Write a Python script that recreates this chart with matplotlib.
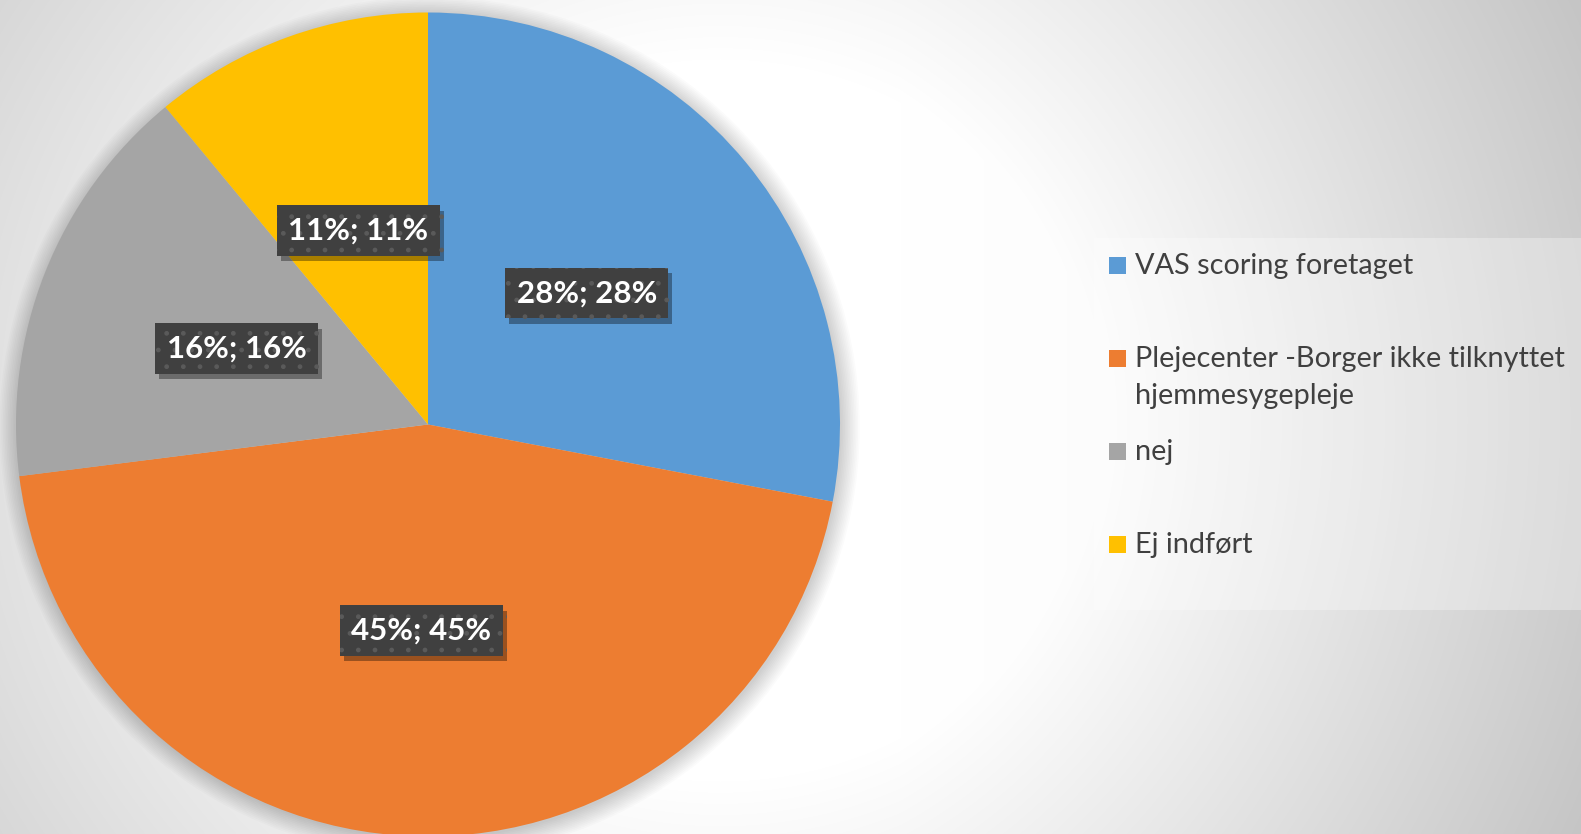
import numpy as np
import matplotlib
matplotlib.use('Agg')
import matplotlib.pyplot as plt
import matplotlib.patheffects as pe
from matplotlib.patches import Circle, Rectangle

# data
labels = ['VAS scoring foretaget', 'Plejecenter -Borger ikke tilknyttet\nhjemmesygepleje', 'nej', 'Ej indført']
values = [28, 45, 16, 11]
colors = ['#5B9BD5', '#ED7D31', '#A5A5A5', '#FFC000']

W, H = 1581, 834
plt.rcParams['font.family'] = ['Lato', 'DejaVu Sans']

fig = plt.figure(figsize=(W / 100, H / 100), dpi=100)

# baggrund med radial gradient
bg = fig.add_axes([0, 0, 1, 1])
yy, xx = np.mgrid[0:H, 0:W]
d = np.hypot((xx - 720) / 1.0, (yy - 420) / 0.95)
g = 255 - 0.085 * np.clip(d - 380, 0, None) - 0.012 * np.clip(xx - 900, 0, None)
g = np.clip(g, 190, 255) / 255
bg.imshow(np.dstack([g, g, g]), extent=[0, W, H, 0], aspect='auto')
bg.set_xlim(0, W)
bg.set_ylim(H, 0)
bg.axis('off')

# lagkage
cx, cy, R = 428, 424.5, 412
ax = fig.add_axes([(cx - R) / W, (H - cy - R) / H, 2 * R / W, 2 * R / H])
for i in range(12):
    ax.add_patch(Circle((0.004, -0.006), 1 + i * 0.004, color='black', alpha=0.014, lw=0,
                        zorder=0, clip_on=False))

wedges, texts, autotexts = ax.pie(
    values, colors=colors, startangle=90, counterclock=False,
    autopct=lambda p: f'{p:.0f}%; {p:.0f}%', pctdistance=0.5,
    wedgeprops=dict(linewidth=0))
for w in wedges:
    w.set_zorder(2)
for t in autotexts:
    t.set_color('white')
    t.set_fontweight('bold')
    t.set_fontsize(22.5)
    t.set_zorder(5)
    t.set_bbox(dict(boxstyle='square,pad=0.36', fc='#404040', ec='#5a5a5a', lw=0, hatch='.'))
    t.get_bbox_patch().set_path_effects([pe.withSimplePatchShadow(offset=(3, -4), alpha=0.35, shadow_rgbFace='black')])
ax.set_xlim(-1, 1)
ax.set_ylim(-1, 1)
ax.set_aspect('equal')
ax.axis('off')

# forklaring (legend)
lax = fig.add_axes([0, 0, 1, 1])
lax.set_xlim(0, W)
lax.set_ylim(H, 0)
lax.axis('off')
lax.patch.set_alpha(0)
lax.add_patch(Rectangle((1094, 238), W - 1094, 372, fc='white', alpha=0.3, lw=0))
slots = [265, 358, 451, 544]
for lab, col, y in zip(labels, colors, slots):
    lax.add_patch(Rectangle((1109, y - 8.5), 17, 17, fc=col, lw=0))
    lax.text(1135, y - 12, lab, fontsize=20.8, color='#404040', va='top', ha='left', linespacing=1.5)

fig.savefig('out.png', dpi=100)
